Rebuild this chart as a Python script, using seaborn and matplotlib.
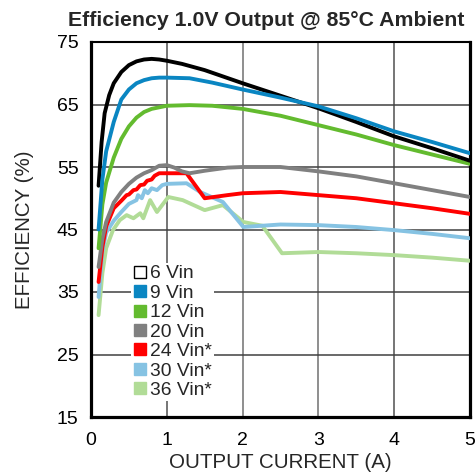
import pandas as pd
import matplotlib
matplotlib.use('Agg')
import matplotlib.pyplot as plt
from matplotlib.lines import Line2D
import seaborn as sns

# Data
labels = ['6 Vin', '9 Vin', '12 Vin', '20 Vin', '24 Vin*', '30 Vin*', '36 Vin*']
colors = ['#000000', '#0a86c2', '#63bb2f', '#808080', '#ff0000', '#86c3e3', '#b1dc97']

x_6 = [0.1, 0.14, 0.18, 0.24, 0.3, 0.4, 0.5, 0.6, 0.7, 0.8, 0.9, 1.0, 1.2, 1.5, 2.0, 2.5, 3.0, 3.5, 4.0, 4.5, 5.0]
y_6 = [52, 59, 63.6, 66.5, 68.4, 70.2, 71.3, 71.9, 72.2, 72.3, 72.2, 72.0, 71.5, 70.5, 68.4, 66.4, 64.4, 62.2, 59.9, 58.0, 56.0]

x_9 = [0.1, 0.15, 0.2, 0.3, 0.4, 0.5, 0.6, 0.7, 0.8, 0.9, 1.0, 1.3, 1.6, 2.0, 2.5, 3.0, 3.5, 4.0, 4.5, 5.0]
y_9 = [45, 53, 57.5, 62.2, 65.8, 67.4, 68.4, 68.9, 69.2, 69.3, 69.3, 69.2, 68.5, 67.4, 66.1, 64.7, 62.8, 60.7, 59.0, 57.2]

x_12 = [0.1, 0.15, 0.2, 0.3, 0.4, 0.5, 0.6, 0.7, 0.8, 1.0, 1.3, 1.6, 2.0, 2.5, 3.0, 3.5, 4.0, 4.5, 5.0]
y_12 = [42, 49, 52.5, 56.5, 59.5, 61.5, 62.9, 63.8, 64.3, 64.8, 64.9, 64.8, 64.3, 63.2, 61.7, 60.2, 58.5, 57.0, 55.5]

x_20 = [0.1, 0.15, 0.2, 0.3, 0.4, 0.5, 0.6, 0.7, 0.8, 0.9, 1.0, 1.1, 1.2, 1.3, 1.5, 1.8, 2.0, 2.5, 3.0, 3.5, 4.0, 4.5, 5.0]
y_20 = [39, 43.5, 46.2, 49.3, 51.0, 52.3, 53.3, 54.0, 54.5, 55.2, 55.3, 54.9, 54.3, 54.0, 54.4, 54.9, 55.0, 55.0, 54.3, 53.5, 52.4, 51.3, 50.2]

x_24 = [0.1, 0.15, 0.2, 0.3, 0.4, 0.47, 0.5, 0.56, 0.6, 0.65, 0.7, 0.74, 0.8, 0.84, 0.9, 1.0, 1.1, 1.26, 1.5, 1.8, 2.0, 2.5, 3.0, 3.5, 4.0, 4.5, 5.0]
y_24 = [36.6, 42.2, 45.5, 48.4, 49.6, 50.5, 50.6, 51.3, 51.4, 52.1, 52.2, 52.8, 53.0, 53.6, 54.0, 54.0, 54.0, 54.0, 50.0, 50.5, 50.8, 51.0, 50.5, 50.0, 49.2, 48.4, 47.5]

x_30 = [0.1, 0.15, 0.2, 0.3, 0.4, 0.5, 0.6, 0.62, 0.67, 0.71, 0.75, 0.8, 0.87, 0.94, 1.0, 1.26, 1.44, 1.74, 2.01, 2.5, 3.0, 3.5, 4.0, 4.5, 5.0]
y_30 = [34.2, 41.5, 44.5, 46.4, 47.8, 49.1, 49.7, 50.5, 50.0, 51.3, 50.8, 51.6, 51.3, 52.1, 52.3, 52.4, 51.0, 49.4, 45.4, 45.8, 45.7, 45.4, 44.9, 44.3, 43.6]

x_36 = [0.1, 0.15, 0.2, 0.29, 0.38, 0.47, 0.56, 0.65, 0.69, 0.78, 0.87, 1.02, 1.21, 1.5, 1.74, 2.01, 2.26, 2.52, 3.0, 3.5, 4.0, 4.5, 5.0]
y_36 = [31.3, 38, 42, 44.9, 46.5, 47.3, 46.8, 47.6, 46.8, 49.7, 47.8, 50.2, 49.7, 48.1, 48.9, 46.2, 45.6, 41.2, 41.4, 41.2, 40.9, 40.5, 40.0]

x_ticks = [0, 1, 2, 3, 4, 5]
y_ticks = [15, 25, 35, 45, 55, 65, 75]

xs = [x_6, x_9, x_12, x_20, x_24, x_30, x_36]
ys = [y_6, y_9, y_12, y_20, y_24, y_30, y_36]
df = pd.concat([pd.DataFrame({'current': x, 'eff': y, 'series': lab})
                for x, y, lab in zip(xs, ys, labels)], ignore_index=True)

sns.set_style('white')
plt.rcParams['font.family'] = ['Liberation Sans', 'DejaVu Sans']

fig = plt.figure(figsize=(4.77, 4.75), dpi=100)
ax = fig.add_axes([91 / 477, 1 - 417 / 475, 379 / 477, 375 / 475])

# draw back-to-front so the top curves overlap like the reference
draw_order = ['36 Vin*', '30 Vin*', '24 Vin*', '20 Vin', '12 Vin', '6 Vin', '9 Vin']
palette = dict(zip(labels, colors))
sns.lineplot(data=df, x='current', y='eff', hue='series', hue_order=draw_order,
             palette=palette, estimator=None, sort=True, linewidth=2.8, ax=ax,
             legend=False, zorder=3)

ax.set_xlim(0, 5)
ax.set_ylim(15, 75)
ax.set_xticks(x_ticks)
ax.set_yticks(y_ticks)
ax.tick_params(axis='both', length=0, labelsize=14, colors='black')
ax.tick_params(axis='x', pad=11)
ax.tick_params(axis='y', pad=9)

for xv in x_ticks[1:-1]:
    ax.axvline(xv, color='#505050' if xv in (1, 4) else '#707070', lw=1.1, zorder=1)
for yv in y_ticks[1:-1]:
    ax.axhline(yv, color='#404040', lw=1.1, zorder=1)

for side in ['left', 'right', 'bottom']:
    ax.spines[side].set_linewidth(2.3)
    ax.spines[side].set_color('black')
ax.spines['top'].set_linewidth(1.5)
ax.spines['top'].set_color('black')

ax.set_xlabel('OUTPUT CURRENT (A)', fontsize=14.8, labelpad=3)
ax.set_ylabel('EFFICIENCY (%)', fontsize=14.8, labelpad=16)

fig.text(266 / 477, 1 - 20 / 475, 'Efficiency 1.0V Output @ 85°C Ambient',
         ha='center', va='center', fontsize=15.3, fontweight='bold')

handles = []
for lab, c in zip(labels, colors):
    if lab == '6 Vin':
        h = Line2D([], [], linestyle='none', marker='s', markersize=9,
                   markerfacecolor='white', markeredgecolor='black', markeredgewidth=1)
    else:
        h = Line2D([], [], linestyle='none', marker='s', markersize=9,
                   markerfacecolor=c, markeredgecolor=c)
    handles.append(h)
leg = ax.legend(handles, labels, loc='upper left', bbox_to_anchor=(131 / 477, 1 - 263 / 475),
                bbox_transform=fig.transFigure, frameon=True, fontsize=13.9,
                labelspacing=0.1, handletextpad=0.2, handlelength=0.7,
                borderpad=0.1, borderaxespad=0)
leg.get_frame().set_facecolor('white')
leg.get_frame().set_edgecolor('none')
leg.get_frame().set_alpha(1)
leg.set_zorder(5)

fig.savefig('out.png', dpi=100)
